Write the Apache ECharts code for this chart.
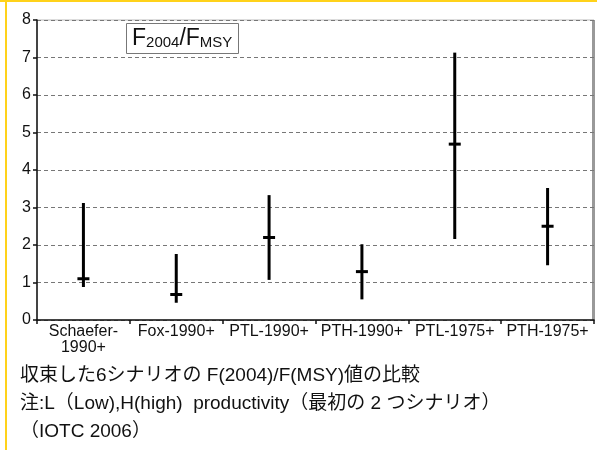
<!DOCTYPE html>
<html>
<head>
<meta charset="utf-8">
<script src="https://cdn.jsdelivr.net/npm/echarts@6/dist/echarts.min.js"></script>
<style>
  html, body { margin: 0; padding: 0; background: #fff; }
  #chart { width: 597px; height: 450px; }
</style>
</head>
<body>
<div id="chart"></div>
<script>
// scenarios and F2004/FMSY estimates (low, point, high)
const scenarios = ["Schaefer-\n1990+", "Fox-1990+", "PTL-1990+", "PTH-1990+", "PTL-1975+", "PTH-1975+"];
const lowVals = [0.88, 0.46, 1.07, 0.55, 2.16, 1.46];
const midVals = [1.1, 0.68, 2.2, 1.29, 4.69, 2.5];
const highVals = [3.12, 1.76, 3.33, 2.02, 7.13, 3.52];
const yTicks = [0, 1, 2, 3, 4, 5, 6, 7, 8];

const captionLines = [
  "収束した6シナリオの F(2004)/F(MSY)値の比較",
  "注:L（Low),H(high)  productivity（最初の 2 つシナリオ）",
  "（IOTC 2006）"
];

const font = "Liberation Sans, Arial, Noto Sans CJK JP, sans-serif";

let data = scenarios.map((s, i) => [i, lowVals[i], midVals[i], highVals[i]]);

let chart = echarts.init(document.getElementById("chart"));
chart.setOption({
  animation: false,
  backgroundColor: "#fff",
  grid: {
    left: 37,
    right: 3,
    top: 20,
    bottom: 130,
    show: true,
    borderColor: "#bbb",
    borderWidth: 1
  },
  title: {
    left: 126,
    top: 20,
    padding: [4, 6, 4, 6],
    borderColor: "#777",
    borderWidth: 1,
    backgroundColor: "#fff",
    text: "{a|F}{b|2004}{a|/F}{b|MSY}",
    textStyle: {
      fontWeight: "normal",
      rich: {
        a: { fontSize: 23, fontFamily: font, fontWeight: "normal", color: "#111", verticalAlign: "bottom", lineHeight: 26 },
        b: { fontSize: 15, fontFamily: font, fontWeight: "normal", color: "#111", verticalAlign: "bottom", lineHeight: 22 }
      }
    }
  },
  xAxis: {
    type: "category",
    data: scenarios,
    axisLine: { lineStyle: { color: "#111", width: 1.5 } },
    axisTick: { show: true, length: 4, lineStyle: { color: "#111", width: 1.5 } },
    axisLabel: {
      interval: 0,
      margin: 4,
      color: "#111",
      fontSize: 16,
      fontFamily: font,
      lineHeight: 16
    }
  },
  yAxis: {
    type: "value",
    min: 0,
    max: 8,
    interval: 1,
    axisLine: { show: true, lineStyle: { color: "#111", width: 1.5 } },
    axisTick: { show: true, length: 4, lineStyle: { color: "#111", width: 1.5 } },
    axisLabel: {
      color: "#111",
      fontSize: 16,
      fontFamily: font,
      margin: 6,
      formatter: v => yTicks.includes(v) ? String(v) : ""
    },
    splitLine: { lineStyle: { color: "#777", type: [4, 3], width: 1 } }
  },
  series: [{
    type: "custom",
    data: data,
    encode: { x: 0, y: [1, 2, 3] },
    renderItem: (params, api) => {
      const x = api.value(0);
      const lo = api.coord([x, api.value(1)]);
      const mid = api.coord([x, api.value(2)]);
      const hi = api.coord([x, api.value(3)]);
      const style = { stroke: "#000", lineWidth: 3 };
      return {
        type: "group",
        children: [
          { type: "line", shape: { x1: lo[0], y1: lo[1], x2: hi[0], y2: hi[1] }, style: style },
          { type: "line", shape: { x1: mid[0] - 6, y1: mid[1], x2: mid[0] + 6, y2: mid[1] }, style: style }
        ]
      };
    }
  }],
  graphic: [
    { type: "rect", left: 0, top: 0, shape: { width: 597, height: 2 }, style: { fill: "#FFD21A" } },
    { type: "rect", left: 5, top: 0, shape: { width: 2, height: 450 }, style: { fill: "#FFD21A" } },
    { type: "rect", left: 592, top: 20, shape: { width: 3, height: 300 }, style: { fill: "#999" } },
    ...captionLines.map((t, i) => ({
      type: "text",
      left: 20,
      top: 366 + i * 28,
      style: { text: t, fontSize: 19, fontFamily: font, fill: "#111" }
    }))
  ]
});
</script>
</body>
</html>
